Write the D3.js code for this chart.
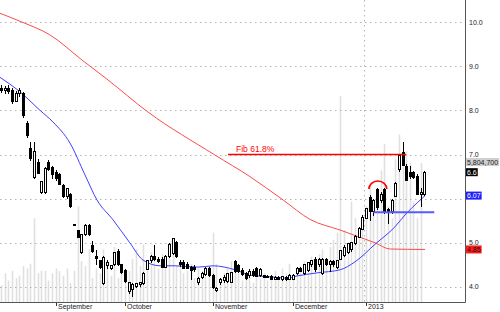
<!DOCTYPE html>
<html>
<head>
<meta charset="utf-8">
<script src="https://cdn.jsdelivr.net/npm/d3@7"></script>
<style>
body { margin: 0; background: #fff; }
svg { display: block; font-family: "Liberation Sans", Arial, sans-serif; }
</style>
</head>
<body>
<script>
const WIDTH = 500;
const HEIGHT = 312;
const PLOT_RIGHT = 465;
const PLOT_BOTTOM = 302;

// daily bars, index 0 is the first bar on the left (mid August 2012)
var opens = [8.50,8.45,8.50,8.46,8.20,8.38,8.38,7.71,7.13,6.49,6.83,6.15,6.13,6.81,6.70,6.60,6.55,6.30,6.04,6.10,
    5.42,5.28,4.79,5.18,5.40,4.95,4.70,4.60,4.09,4.48,4.42,4.50,4.80,4.50,4.38,3.89,3.95,4.02,4.05,4.08,
    4.40,4.60,4.70,4.62,4.62,4.45,4.68,4.75,5.00,4.55,4.55,4.52,4.45,4.45,4.10,4.22,4.28,4.42,4.27,3.92,
    4.10,4.15,4.12,4.10,4.57,4.48,4.38,4.30,4.25,4.35,4.42,4.25,4.25,4.23,4.24,4.18,4.22,4.17,4.22,4.18,
    4.17,4.30,4.42,4.30,4.38,4.50,4.62,4.50,4.30,4.62,4.52,4.58,4.45,4.62,4.72,4.78,4.85,4.98,5.12,5.30,
    5.56,6.02,5.70,6.20,5.95,6.20,5.75,5.70,6.05,6.65,7.05,6.72,6.60,6.60,6.50,6.10,6.10];
var highs = [8.58,8.55,8.57,8.50,8.45,8.50,8.42,7.75,7.28,7.28,6.90,6.40,6.72,6.88,6.75,6.65,6.58,6.33,6.25,6.12,
    5.43,5.30,5.20,5.42,5.42,5.05,4.84,4.62,4.70,4.60,4.50,4.80,4.85,4.52,4.40,4.12,4.09,4.10,4.12,4.33,
    4.62,4.72,4.95,4.68,4.68,4.72,5.00,5.12,5.05,4.60,4.60,4.57,4.48,4.50,4.22,4.35,4.45,4.45,4.30,4.00,
    4.20,4.27,4.32,4.34,4.60,4.52,4.42,4.35,4.40,4.40,4.45,4.43,4.28,4.27,4.27,4.26,4.25,4.26,4.26,4.30,
    4.30,4.45,4.45,4.52,4.57,4.62,4.68,4.66,4.66,4.66,4.62,4.62,4.62,4.84,4.95,5.00,5.03,5.18,5.35,5.62,
    5.80,6.08,6.00,6.24,6.15,6.25,5.80,6.00,6.38,7.00,7.28,6.78,6.75,6.62,6.55,6.25,6.62];
var lows = [8.40,8.38,8.36,8.15,8.18,8.30,7.83,7.38,6.85,6.45,6.55,6.10,6.10,6.62,6.45,6.40,6.30,6.02,6.00,5.79,
    5.38,5.10,4.75,5.15,5.15,4.78,4.50,4.40,4.05,4.40,4.38,4.48,4.48,4.30,4.10,3.85,3.78,3.98,4.00,4.05,
    4.38,4.55,4.58,4.55,4.42,4.42,4.66,4.72,4.66,4.45,4.40,4.40,4.15,4.35,4.05,4.18,4.25,4.22,3.95,3.88,
    4.05,4.10,4.10,4.08,4.32,4.32,4.25,4.15,4.20,4.22,4.22,4.22,4.20,4.20,4.15,4.15,4.15,4.14,4.14,4.16,
    4.15,4.27,4.33,4.27,4.35,4.45,4.35,4.45,4.27,4.48,4.35,4.45,4.40,4.60,4.68,4.75,4.80,4.95,5.10,5.28,
    5.54,5.50,5.60,5.75,5.90,5.65,5.42,5.65,6.05,6.60,6.73,6.40,6.45,6.45,6.08,5.82,6.05];
var closes = [8.45,8.50,8.42,8.19,8.38,8.45,7.89,7.42,6.90,7.06,6.58,6.38,6.69,6.65,6.55,6.45,6.31,6.05,6.22,5.82,
    5.40,5.12,5.18,5.40,5.18,4.80,4.65,4.45,4.66,4.55,4.48,4.77,4.50,4.32,4.12,4.10,4.05,4.07,4.10,4.30,
    4.60,4.68,4.62,4.58,4.45,4.70,4.97,5.10,4.68,4.50,4.42,4.42,4.38,4.40,4.20,4.30,4.42,4.25,3.98,3.97,
    4.18,4.22,4.30,4.32,4.35,4.36,4.28,4.20,4.35,4.26,4.24,4.40,4.22,4.24,4.18,4.22,4.17,4.23,4.18,4.27,
    4.27,4.42,4.36,4.50,4.55,4.60,4.40,4.62,4.62,4.52,4.58,4.50,4.60,4.82,4.90,4.98,5.00,5.15,5.32,5.58,
    5.78,5.70,5.95,5.79,6.10,5.70,5.70,5.97,6.35,6.98,6.75,6.42,6.50,6.47,6.10,6.15,6.60];
// volume in millions of shares
var volumes = [0.7,1.2,0.9,1.3,1.0,1.1,1.5,1.4,1.6,3.5,1.2,1.3,1.3,0.9,1.2,1.4,1.3,1.1,1.4,0.8,
    1.3,4.0,1.7,1.5,2.2,1.0,1.4,1.2,2.2,1.5,1.1,2.3,1.0,1.6,1.0,1.3,1.8,2.2,1.5,2.4,
    1.6,2.1,1.9,1.4,2.0,1.8,2.2,2.6,1.5,1.7,1.2,1.3,1.6,1.0,1.4,1.3,1.1,1.5,2.9,1.6,
    1.0,1.2,1.4,1.7,1.5,1.2,0.9,1.1,1.3,0.8,1.4,1.0,1.2,0.9,1.1,1.3,1.0,1.4,1.2,1.6,
    1.0,1.3,1.5,1.7,1.2,1.9,1.6,2.0,2.2,1.8,2.3,2.6,2.9,8.6,3.0,2.5,4.2,3.5,2.8,3.2,
    4.0,5.0,3.8,4.5,5.5,6.6,4.0,3.5,6.0,7.0,6.0,6.3,5.8,4.2,3.5,5.8047];

// moving averages at sample bars
var maFastIdx = [-0.3,5.2,10.7,14.2,18.9,23,26.3,30.7,35.3,38.9,43.6,47.7,54,58.1,64.1,68.2,73.7,78.4,81.1,86.6,92.9,97,102.5,107.9,111.2,114.2,116.2];
var maFastVal = [8.75,8.42,8.0,7.74,7.26,6.54,5.97,5.52,5.0,4.61,4.48,4.48,4.45,4.48,4.39,4.27,4.23,4.2,4.25,4.32,4.39,4.57,4.97,5.36,5.68,5.92,6.07];
var maSlowIdx = [-0.3,5.75,13.4,22.2,29,40.3,58.6,68.2,77.3,84.7,92.9,98.9,102.5,106.6,116.2];
var maSlowVal = [10.2,10.0,9.71,9.14,8.71,7.96,6.99,6.5,5.97,5.53,5.29,5.11,5.0,4.86,4.85];

var priceTicks = [4, 5, 6, 7, 8, 9, 10];
var monthIdx = [15, 34, 58, 80, 100];
var monthLabels = ["September", "October", "November", "December", "2013"];
var yearBreakIdx = 99.5;

// annotations
var fibLevel = 7.0, fibFrom = 62.2, fibTo = 111;
var supportLevel = 5.69, supportFrom = 102, supportTo = 118.7;
var arcFrom = 100.8, arcTo = 105.7, arcBase = 6.22, arcTop = 6.4;

// right-hand value tags
var tagLabels = ["5,804,700", "6.6", "6.07", "4.85"];
var tagValues = [6.83, 6.6, 6.07, 4.85];
var tagFill = ["#cfcfcf", "#000000", "#1f1fff", "#ff1a1a"];
var tagText = ["#222", "#fff", "#fff", "#111"];

var svg = d3.select("body").append("svg")
    .attr("width", WIDTH)
    .attr("height", HEIGHT);

var x = d3.scaleLinear().domain([0, 116]).range([1, 424.4]);
var y = d3.scaleLinear().domain([3.66, 10.5]).range([PLOT_BOTTOM, 0]);
var yVol = d3.scaleLinear().domain([0, 8.4]).range([PLOT_BOTTOM, 101]);

// volume bars in the background
svg.append("g").selectAll("line")
    .data(volumes)
    .enter().append("line")
    .attr("x1", (d, i) => Math.round(x(i)) + 0.5)
    .attr("x2", (d, i) => Math.round(x(i)) + 0.5)
    .attr("y1", PLOT_BOTTOM)
    .attr("y2", d => yVol(d))
    .attr("stroke", "#e0e0e0")
    .attr("stroke-width", 1.6);

// dotted grid
var grid = svg.append("g").attr("stroke", "#b4b4b4").attr("stroke-dasharray", "1.5,3.5");
grid.selectAll("line.h")
    .data(priceTicks)
    .enter().append("line")
    .attr("x1", 0)
    .attr("x2", PLOT_RIGHT)
    .attr("y1", d => Math.round(y(d)) + 0.5)
    .attr("y2", d => Math.round(y(d)) + 0.5);
grid.append("line")
    .attr("x1", Math.round(x(yearBreakIdx)) + 0.5)
    .attr("x2", Math.round(x(yearBreakIdx)) + 0.5)
    .attr("y1", 0)
    .attr("y2", PLOT_BOTTOM);

// moving averages
var line = d3.line().curve(d3.curveMonotoneX);
svg.append("path")
    .attr("d", line(maSlowIdx.map((d, i) => [x(d), y(maSlowVal[i])])))
    .attr("fill", "none")
    .attr("stroke", "#ff4a4a")
    .attr("stroke-width", 1);
svg.append("path")
    .attr("d", line(maFastIdx.map((d, i) => [x(d), y(maFastVal[i])])))
    .attr("fill", "none")
    .attr("stroke", "#3f3fff")
    .attr("stroke-width", 1);

// candles
var candles = svg.append("g").attr("shape-rendering", "crispEdges");
opens.forEach(function (o, i) {
    var c = closes[i];
    var cx = Math.round(x(i));
    candles.append("line")
        .attr("x1", cx + 0.5).attr("x2", cx + 0.5)
        .attr("y1", y(highs[i])).attr("y2", y(lows[i]))
        .attr("stroke", "#000");
    var top = y(Math.max(o, c));
    var bottom = y(Math.min(o, c));
    candles.append("rect")
        .attr("x", cx - 0.5)
        .attr("y", top)
        .attr("width", 2)
        .attr("height", Math.max(1, bottom - top))
        .attr("fill", c >= o ? "#fff" : "#000")
        .attr("stroke", "#000")
        .attr("stroke-width", 1);
});

// Fib 61.8% line
svg.append("line")
    .attr("x1", x(fibFrom)).attr("x2", x(fibTo))
    .attr("y1", y(fibLevel)).attr("y2", y(fibLevel))
    .attr("stroke", "#ff0000")
    .attr("stroke-width", 1.5);
svg.append("text")
    .attr("x", x(fibFrom) + 8)
    .attr("y", y(fibLevel) - 3)
    .attr("fill", "#ff0000")
    .attr("font-size", 8.5)
    .text("Fib 61.8%");

// support line
svg.append("line")
    .attr("x1", x(supportFrom)).attr("x2", x(supportTo))
    .attr("y1", y(supportLevel)).attr("y2", y(supportLevel))
    .attr("stroke", "#5a5aff")
    .attr("stroke-width", 2);

// rounded top
var ax1 = x(arcFrom), ax2 = x(arcTo);
svg.append("path")
    .attr("d", "M" + ax1 + "," + y(arcBase) + " A" + ((ax2 - ax1) / 2) + "," + (y(arcBase) - y(arcTop)) +
        " 0 0 1 " + ax2 + "," + y(arcBase))
    .attr("fill", "none")
    .attr("stroke", "#ff0000")
    .attr("stroke-width", 1.6);

// axes frame
svg.append("line")
    .attr("x1", PLOT_RIGHT + 0.5).attr("x2", PLOT_RIGHT + 0.5)
    .attr("y1", 0).attr("y2", PLOT_BOTTOM + 0.5)
    .attr("stroke", "#555");
svg.append("line")
    .attr("x1", 0).attr("x2", PLOT_RIGHT + 0.5)
    .attr("y1", PLOT_BOTTOM + 0.5).attr("y2", PLOT_BOTTOM + 0.5)
    .attr("stroke", "#555");

// price labels, skipping the ones hidden under a value tag
var shownTicks = priceTicks.filter(p => tagValues.every(v => Math.abs(y(p) - y(v)) > 5));
svg.append("g").selectAll("text")
    .data(shownTicks)
    .enter().append("text")
    .attr("x", 469)
    .attr("y", d => y(d) + 2.5)
    .attr("font-size", 7)
    .attr("fill", "#222")
    .text(d => d.toFixed(1));

// month labels
var months = svg.append("g");
monthIdx.forEach(function (m, k) {
    var tx = Math.round(x(m)) + 0.5;
    months.append("line")
        .attr("x1", tx).attr("x2", tx)
        .attr("y1", PLOT_BOTTOM + 1).attr("y2", PLOT_BOTTOM + 4)
        .attr("stroke", "#333");
    months.append("text")
        .attr("x", tx + 1.5)
        .attr("y", 309)
        .attr("font-size", 7)
        .attr("fill", "#222")
        .text(monthLabels[k]);
});

// value tags
var tags = svg.append("g");
tagLabels.forEach(function (t, k) {
    var ty = y(tagValues[k]);
    var txt = tags.append("text")
        .attr("x", 467)
        .attr("y", ty + 2.5)
        .attr("font-size", 7)
        .attr("fill", tagText[k])
        .text(t);
    var w = txt.node().getComputedTextLength();
    tags.insert("rect", "text")
        .attr("x", 466)
        .attr("y", ty - 4)
        .attr("width", w + 2)
        .attr("height", 8)
        .attr("fill", tagFill[k]);
});
</script>
</body>
</html>
